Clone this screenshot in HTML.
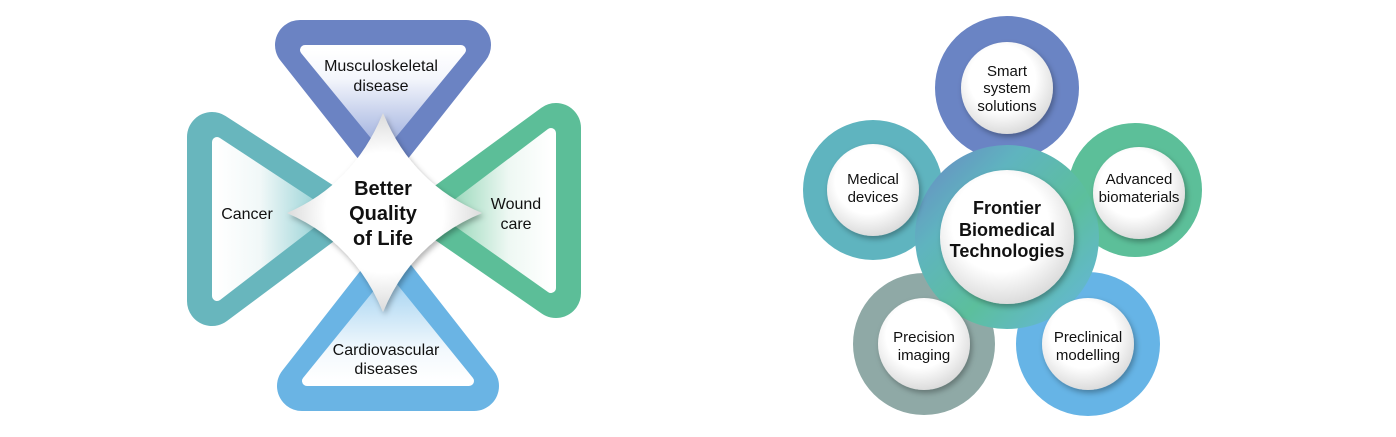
<!DOCTYPE html>
<html><head><meta charset="utf-8"><style>
html,body{margin:0;padding:0;background:#fff;width:1396px;height:437px;overflow:hidden}
text{font-family:"Liberation Sans",sans-serif;fill:#111}
</style></head><body>
<svg width="1396" height="437" viewBox="0 0 1396 437" xmlns="http://www.w3.org/2000/svg">
<defs>
<linearGradient id="gt" x1="0" y1="0" x2="0" y2="1"><stop offset="0" stop-color="#fff"/><stop offset="0.3" stop-color="#f4f6fc"/><stop offset="1" stop-color="#9fb0de"/></linearGradient>
<linearGradient id="gb" x1="0" y1="1" x2="0" y2="0"><stop offset="0" stop-color="#fff"/><stop offset="0.3" stop-color="#f3f9fd"/><stop offset="1" stop-color="#a5d3f1"/></linearGradient>
<linearGradient id="gl" x1="0" y1="0" x2="1" y2="0"><stop offset="0" stop-color="#fff"/><stop offset="0.4" stop-color="#f1f8f8"/><stop offset="1" stop-color="#8fcfd3"/></linearGradient>
<linearGradient id="gr" x1="1" y1="0" x2="0" y2="0"><stop offset="0" stop-color="#fff"/><stop offset="0.4" stop-color="#eef8f3"/><stop offset="1" stop-color="#8fd4b4"/></linearGradient>
<radialGradient id="wc" cx="0.45" cy="0.4" r="0.6"><stop offset="0.6" stop-color="#fff"/><stop offset="1" stop-color="#dcdcdc"/></radialGradient>
<radialGradient id="dm" cx="0.5" cy="0.5" r="0.55"><stop offset="0.55" stop-color="#fff"/><stop offset="1" stop-color="#d2d2d2"/></radialGradient>
<linearGradient id="rc" x1="0" y1="0" x2="1" y2="1"><stop offset="0" stop-color="#6a84c4"/><stop offset="0.3" stop-color="#5fb4bf"/><stop offset="0.6" stop-color="#5cbf9c"/><stop offset="1" stop-color="#66b4e6"/></linearGradient>
<filter id="sh" x="-20%" y="-20%" width="140%" height="140%"><feDropShadow dx="2" dy="3" stdDeviation="3" flood-opacity="0.3"/></filter>
</defs>
<g stroke-linejoin="round">
<path d="M212,137 L330,213 L212,301 Z" fill="#68b6bd" stroke="#68b6bd" stroke-width="50"/>
<path d="M556,128 L440,213 L556,293 Z" fill="#5cbe98" stroke="#5cbe98" stroke-width="50"/>
<path d="M300,45 L466,45 L383,150 Z" fill="#6b83c3" stroke="#6b83c3" stroke-width="50"/>
<path d="M302,386 L474,386 L388,276 Z" fill="#6ab4e4" stroke="#6ab4e4" stroke-width="50"/>
<path d="M217,142 L325,213 L217,296 Z" fill="url(#gl)" stroke="url(#gl)" stroke-width="10"/>
<path d="M551,133 L445,213 L551,288 Z" fill="url(#gr)" stroke="url(#gr)" stroke-width="10"/>
<path d="M305,50 L461,50 L383,145 Z" fill="url(#gt)" stroke="url(#gt)" stroke-width="10"/>
<path d="M307,381 L469,381 L388,281 Z" fill="url(#gb)" stroke="url(#gb)" stroke-width="10"/>
</g>
<path d="M383,113 Q412,184 482,213 Q412,242 383,312 Q354,242 287,213 Q354,184 383,113 Z" fill="url(#dm)" filter="url(#sh)"/>
<g font-size="16" text-anchor="middle">
<text x="381" y="71">Musculoskeletal</text><text x="381" y="91">disease</text>
<text x="247" y="219">Cancer</text>
<text x="516" y="209">Wound</text><text x="516" y="229">care</text>
<text x="386" y="355">Cardiovascular</text><text x="386" y="374">diseases</text>
</g>
<g font-size="20" font-weight="bold" text-anchor="middle">
<text x="383" y="195">Better</text><text x="383" y="220">Quality</text><text x="383" y="245">of Life</text>
</g>

<circle cx="873" cy="190" r="70" fill="#5fb4bf"/>
<circle cx="1007" cy="88" r="72" fill="#6a84c4"/>
<circle cx="1135" cy="190" r="67" fill="#5cbf99"/>
<circle cx="924" cy="344" r="71" fill="#8fa9a6"/>
<circle cx="1088" cy="344" r="72" fill="#66b4e6"/>
<circle cx="1007" cy="237" r="92" fill="url(#rc)"/>
<g fill="url(#wc)" filter="url(#sh)">
<circle cx="1007" cy="237" r="67"/>
<circle cx="1007" cy="88" r="46"/>
<circle cx="873" cy="190" r="46"/>
<circle cx="1139" cy="193" r="46"/>
<circle cx="924" cy="344" r="46"/>
<circle cx="1088" cy="344" r="46"/>
</g>
<g font-size="15" text-anchor="middle">
<text x="1007" y="76">Smart</text><text x="1007" y="93">system</text><text x="1007" y="111">solutions</text>
<text x="873" y="184">Medical</text><text x="873" y="202">devices</text>
<text x="1139" y="184">Advanced</text><text x="1139" y="202">biomaterials</text>
<text x="924" y="342">Precision</text><text x="924" y="360">imaging</text>
<text x="1088" y="342">Preclinical</text><text x="1088" y="360">modelling</text>
</g>
<g font-size="18" font-weight="bold" text-anchor="middle">
<text x="1007" y="214">Frontier</text><text x="1007" y="236">Biomedical</text><text x="1007" y="257">Technologies</text>
</g>
</svg>
</body></html>
